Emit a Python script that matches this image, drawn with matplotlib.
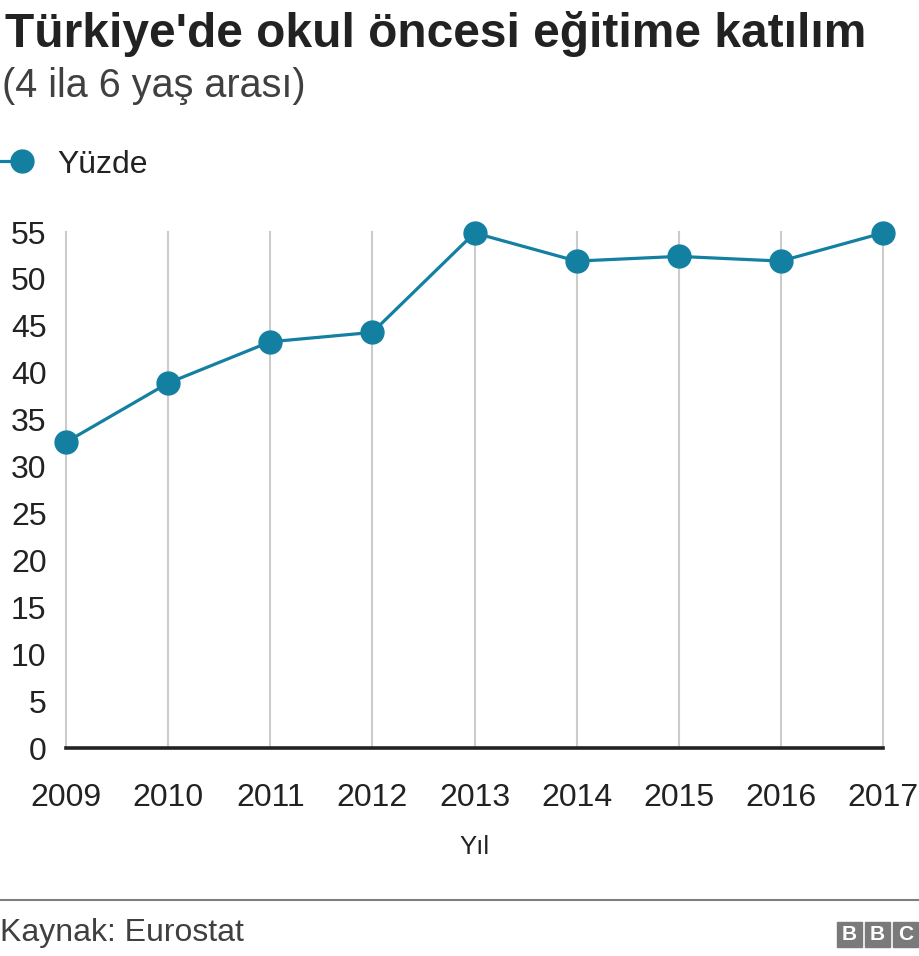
import matplotlib.pyplot as plt
from matplotlib.patches import Rectangle

plt.rcParams['font.family'] = ['Liberation Sans', 'DejaVu Sans']

years = [2009, 2010, 2011, 2012, 2013, 2014, 2015, 2016, 2017]
values = [32.6, 38.9, 43.3, 44.3, 54.9, 51.9, 52.4, 51.9, 54.9]
yticks = [0, 5, 10, 15, 20, 25, 30, 35, 40, 45, 50, 55]

blue = '#1380a1'
W, H = 920, 956

fig = plt.figure(figsize=(W / 100, H / 100), dpi=100)
ax = fig.add_axes([66 / W, 1 - 748 / H, (883 - 66) / W, (748 - 232) / H])

ax.plot(years, values, color=blue, lw=2.3, marker='o', ms=16.5,
        clip_on=False, zorder=5)

ax.set_xlim(2009, 2017)
ax.set_ylim(0, 55)
ax.set_xticks(years)
ax.set_yticks(yticks)
for x in years:
    ax.axvline(x, color='#cccccc', lw=1.5, zorder=1, clip_on=False)
ax.axhline(0, color='#222222', lw=2.6, zorder=3, clip_on=False)

for s in ax.spines.values():
    s.set_visible(False)
ax.tick_params(length=0, labelsize=23, colors='#222222')
ax.tick_params(axis='x', pad=25)
ax.tick_params(axis='y', pad=14)

ax.set_xlabel('Yıl', fontsize=18.5, color='#222222', labelpad=16)

fig.text(5 / W, 1 - 34 / H, "Türkiye'de okul öncesi eğitime katılım",
         fontsize=34.5, fontweight='bold', color='#222222', va='center')
fig.text(2 / W, 1 - 86 / H, '(4 ila 6 yaş arası)', fontsize=28.5,
         color='#404040', va='center')

# legend
fig.add_artist(plt.Line2D([0, 22 / W], [1 - 161 / H] * 2, color=blue, lw=2.3))
fig.add_artist(plt.Line2D([22 / W], [1 - 161 / H], color=blue, marker='o',
                          ms=16.5, lw=0))
fig.text(57 / W, 1 - 165 / H, 'Yüzde', fontsize=23, color='#222222',
         va='center')

# footer
fig.add_artist(plt.Line2D([0, 1], [1 - 900 / H] * 2, color='#7f7f7f', lw=1.5))
fig.text(0, 1 - 933 / H, 'Kaynak: Eurostat', fontsize=23, color='#404040',
         va='center')
for i, ch in enumerate('BBC'):
    x0 = 837 + i * 28
    fig.add_artist(Rectangle((x0 / W, 1 - 947 / H), 25 / W, 25 / H,
                             color='#7a7a7a', transform=fig.transFigure))
    fig.text((x0 + 12.5) / W, 1 - 934.5 / H, ch, fontsize=15,
             fontweight='bold', color='white', ha='center', va='center')

fig.savefig('out.png', dpi=100)
